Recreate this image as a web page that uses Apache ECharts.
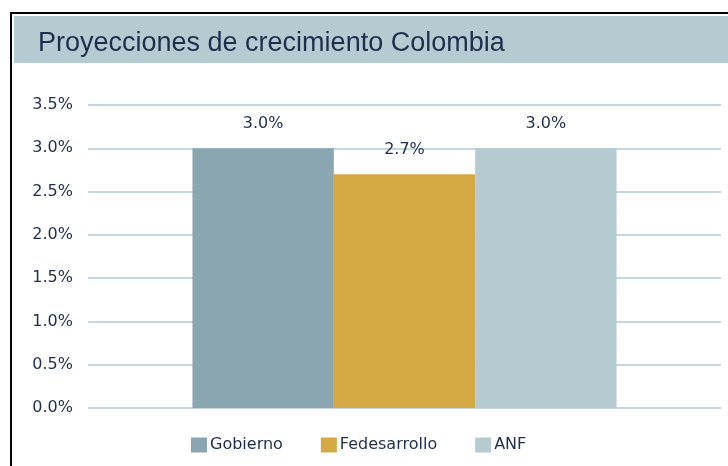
<!DOCTYPE html>
<html>
<head>
<meta charset="utf-8">
<script src="https://cdn.jsdelivr.net/npm/echarts@6/dist/echarts.min.js"></script>
<style>
  html, body { margin: 0; padding: 0; background: #fff; }
  #chart { width: 728px; height: 466px; }
</style>
</head>
<body>
<div id="chart"></div>
<script>
const titleText = 'Proyecciones de crecimiento Colombia';
const seriesNames = ['Gobierno', 'Fedesarrollo', 'ANF'];
const seriesValues = [3.0, 2.7, 3.0];
const seriesColors = ['#8aa6b1', '#d4a843', '#b6cad2'];
const yTicks = { min: 0, max: 3.5, interval: 0.5 };

let chartDom = document.getElementById('chart');
let myChart = echarts.init(chartDom);
let option;

const textColor = '#1f2e4d';

option = {
  animation: false,
  graphic: [
    // frame and title band
    { type: 'line', shape: { x1: 11, y1: 13, x2: 728, y2: 13 }, style: { stroke: '#000', lineWidth: 2 } },
    { type: 'line', shape: { x1: 11, y1: 12, x2: 11, y2: 466 }, style: { stroke: '#000', lineWidth: 2 } },
    { type: 'rect', shape: { x: 14, y: 16, width: 714, height: 47 }, style: { fill: '#b6cad2' } }
  ],
  title: {
    text: titleText,
    left: 33,
    top: 25,
    textStyle: {
      fontFamily: 'Liberation Sans',
      fontWeight: 'normal',
      fontSize: 27,
      color: textColor
    }
  },
  legend: {
    data: seriesNames,
    icon: 'rect',
    left: 186,
    top: 432,
    itemWidth: 16,
    itemHeight: 15,
    itemGap: 38,
    textStyle: {
      fontFamily: 'DejaVu Sans',
      fontSize: 16,
      color: textColor,
      padding: [0, 0, 0, -2]
    }
  },
  grid: {
    left: 88,
    right: 7,
    top: 105,
    bottom: 58
  },
  xAxis: {
    type: 'category',
    data: [''],
    axisLine: { show: false },
    axisTick: { show: false },
    axisLabel: { show: false }
  },
  yAxis: {
    type: 'value',
    min: yTicks.min,
    max: yTicks.max,
    interval: yTicks.interval,
    axisLine: { show: false },
    axisTick: { show: false },
    splitLine: { lineStyle: { color: '#c6d6de', width: 2 } },
    axisLabel: {
      margin: 15,
      fontFamily: 'DejaVu Sans',
      fontSize: 16,
      color: textColor,
      formatter: (v) => v.toFixed(1) + '%'
    }
  },
  series: seriesNames.map((name, i) => ({
    name,
    type: 'bar',
    data: [seriesValues[i]],
    barGap: '0%',
    barCategoryGap: '33%',
    itemStyle: { color: seriesColors[i] },
    label: {
      show: true,
      position: 'top',
      distance: 16,
      fontFamily: 'DejaVu Sans',
      fontSize: 16,
      color: textColor,
      formatter: (p) => p.value.toFixed(1) + '%'
    }
  })),
  color: seriesColors
};

option && myChart.setOption(option);
</script>
</body>
</html>
